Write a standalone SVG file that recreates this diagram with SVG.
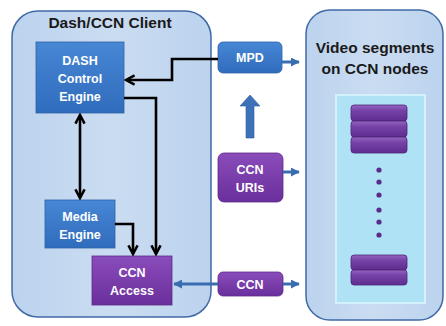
<svg xmlns="http://www.w3.org/2000/svg" width="446" height="326" viewBox="0 0 446 326">
  <style>
    .title { font-family: "Liberation Sans", Arial, sans-serif; font-weight: bold; font-size: 15.5px; fill: #1a1a1a; text-anchor: middle; }
    .lbl { font-family: "Liberation Sans", Arial, sans-serif; font-weight: bold; font-size: 12.5px; fill: #ffffff; text-anchor: middle; }
    .blue { fill: url(#gBlue); stroke: #2f62a8; stroke-width: 0.8; }
    .purple { fill: url(#gPurple); stroke: #5e2a88; stroke-width: 0.8; }
    .bar { fill: url(#gBar); stroke: #4e2378; stroke-width: 0.8; }
    .wire { fill: none; stroke: #000000; stroke-width: 2.6; }
    .flow { fill: none; stroke: #3a6db0; stroke-width: 3; }
    .dot { fill: #5b2a8c; }
  </style>
  <defs>
    <linearGradient id="gBlue" x1="0" y1="0" x2="0" y2="1">
      <stop offset="0" stop-color="#4787d4"/>
      <stop offset="1" stop-color="#306cbd"/>
    </linearGradient>
    <linearGradient id="gPurple" x1="0" y1="0" x2="0" y2="1">
      <stop offset="0" stop-color="#8a4cba"/>
      <stop offset="1" stop-color="#6a2f9c"/>
    </linearGradient>
    <linearGradient id="gBar" x1="0" y1="0" x2="0" y2="1">
      <stop offset="0" stop-color="#9465c0"/>
      <stop offset="0.35" stop-color="#7642a8"/>
      <stop offset="1" stop-color="#5e2d8e"/>
    </linearGradient>
    <linearGradient id="gPanel" x1="0" y1="0" x2="1" y2="0">
      <stop offset="0" stop-color="#bcd3ee"/>
      <stop offset="0.5" stop-color="#cadcf1"/>
      <stop offset="1" stop-color="#bcd3ee"/>
    </linearGradient>
    <marker id="headBlack" viewBox="0 0 10 10" refX="8.5" refY="5" markerWidth="4.4" markerHeight="4.4" orient="auto-start-reverse" markerUnits="strokeWidth">
      <path d="M1,1 L8.5,5 L1,9" fill="none" stroke="#000" stroke-width="2.2"/>
    </marker>
    <marker id="headBlue" viewBox="0 0 10 10" refX="9" refY="5" markerWidth="3" markerHeight="3" orient="auto-start-reverse" markerUnits="strokeWidth">
      <path d="M0,0 L10,5 L0,10 Z" fill="#3a6db0"/>
    </marker>
  </defs>

  <rect width="446" height="326" fill="#ffffff"/>

  <!-- client container -->
  <g id="client">
    <rect x="12" y="11" width="199" height="306" rx="26" fill="url(#gPanel)" stroke="#3f6aa6" stroke-width="1.5"/>
    <text class="title" x="110" y="28">Dash/CCN Client</text>
  </g>

  <!-- storage container -->
  <g id="storage">
    <rect x="306" y="10" width="137" height="310" rx="24" fill="url(#gPanel)" stroke="#3f6aa6" stroke-width="1.5"/>
    <text class="title" x="375" y="53">Video segments</text>
    <text class="title" x="375" y="74">on CCN nodes</text>
    <rect x="336" y="95" width="89" height="208" fill="#aee2f4" stroke="#d2f1fa" stroke-width="2"/>
  </g>

  <g id="segments">
    <rect class="bar" x="351" y="105" width="56" height="16" rx="3"/>
    <rect class="bar" x="351" y="121" width="56" height="16" rx="3"/>
    <rect class="bar" x="351" y="137" width="56" height="16" rx="3"/>
    <circle class="dot" cx="379" cy="170" r="2.6"/>
    <circle class="dot" cx="379" cy="182" r="2.6"/>
    <circle class="dot" cx="379" cy="195" r="2.6"/>
    <circle class="dot" cx="379" cy="210" r="2.6"/>
    <circle class="dot" cx="379" cy="222" r="2.6"/>
    <circle class="dot" cx="379" cy="235" r="2.6"/>
    <rect class="bar" x="351" y="255" width="56" height="15" rx="3"/>
    <rect class="bar" x="351" y="270" width="56" height="15" rx="3"/>
  </g>

  <g id="dash-control">
    <rect class="blue" x="36" y="42" width="88" height="71"/>
    <text class="lbl" x="80" y="65">DASH</text>
    <text class="lbl" x="80" y="83">Control</text>
    <text class="lbl" x="80" y="101">Engine</text>
  </g>

  <g id="media-engine">
    <rect class="blue" x="45" y="200" width="70" height="48"/>
    <text class="lbl" x="80" y="221">Media</text>
    <text class="lbl" x="80" y="239">Engine</text>
  </g>

  <g id="ccn-access">
    <rect class="purple" x="92" y="256" width="80" height="49"/>
    <text class="lbl" x="132" y="277">CCN</text>
    <text class="lbl" x="132" y="295">Access</text>
  </g>

  <g id="mpd">
    <rect class="blue" x="218" y="42" width="64" height="31" rx="5"/>
    <text class="lbl" x="250" y="62">MPD</text>
  </g>

  <g id="ccn-uris">
    <rect class="purple" x="218" y="153" width="65" height="49" rx="6"/>
    <text class="lbl" x="250" y="174">CCN</text>
    <text class="lbl" x="250" y="192">URIs</text>
  </g>

  <g id="ccn">
    <rect class="purple" x="218" y="272" width="65" height="24" rx="5"/>
    <text class="lbl" x="250" y="288.5">CCN</text>
  </g>

  <!-- connectors -->
  <g id="connectors">
    <path class="wire" d="M218,59 H172 V80 H126" marker-end="url(#headBlack)"/>
    <path class="wire" d="M124,98 H156 V254" marker-end="url(#headBlack)"/>
    <path class="wire" d="M80,115 V198" marker-start="url(#headBlack)" marker-end="url(#headBlack)"/>
    <path class="wire" d="M115,224 H133 V254" marker-end="url(#headBlack)"/>

    <path class="flow" d="M282,62 H299" marker-end="url(#headBlue)"/>
    <path class="flow" d="M283,172 H299" marker-end="url(#headBlue)"/>
    <path class="flow" d="M283,284 H299" marker-end="url(#headBlue)"/>
    <path class="flow" d="M218,284 H174" marker-end="url(#headBlue)"/>
    <path d="M246,138 V106 H240 L250,95 L260,106 H254 V138 Z" fill="#3d72b8" stroke="#2f5f9f" stroke-width="0.6"/>
  </g>
</svg>
